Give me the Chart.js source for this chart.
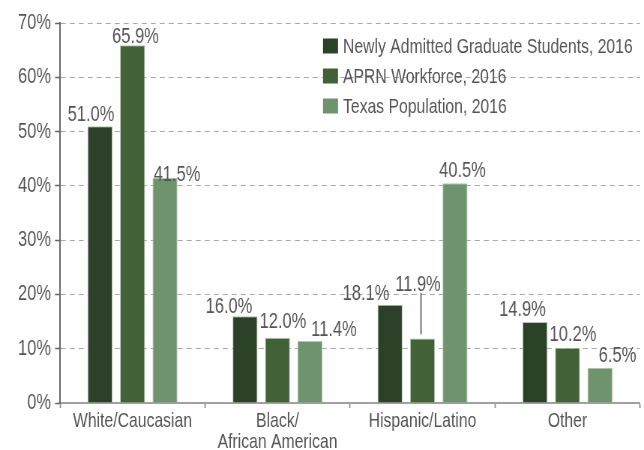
<!DOCTYPE html>
<html>
<head>
<meta charset="utf-8">
<script src="https://cdn.jsdelivr.net/npm/chart.js@4"></script>
<style>
  html, body { margin: 0; padding: 0; background: #fff; overflow: hidden; }
  #wrap { width: 644px; height: 450px; overflow: hidden; }
  /* the chart is drawn wider and squeezed so the sans text looks condensed */
  #myChart { transform: scaleX(0.7497); transform-origin: 0 0; }
</style>
</head>
<body>
<div id="wrap"><canvas id="myChart" width="859" height="450"></canvas></div>
<script>
const categories = ["White/Caucasian", ["Black/", "African American"], "Hispanic/Latino", "Other"];
const seriesNames = ["Newly Admitted Graduate Students, 2016", "APRN Workforce, 2016", "Texas Population, 2016"];
const newlyAdmitted = [51.0, 16.0, 18.1, 14.9];
const aprnWorkforce = [65.9, 12.0, 11.9, 10.2];
const texasPopulation = [41.5, 11.4, 40.5, 6.5];
const yTicks = [0, 10, 20, 30, 40, 50, 60, 70];

const S = 0.7497; // horizontal squeeze
const colors = ["#2b4229", "#416137", "#6f936c"];
const textColor = "#555555";
const fontFamily = "'Liberation Sans', Arial, sans-serif";

// label nudges [dx, rise above bar top] per series / category, in page pixels
const labelNudge = [
    [[-9, 5], [-16, 3.5], [-24, 5], [-12.5, 6]],
    [[3, 2.5], [5.5, 10], [-4.5, 47.5], [5.5, 6.5]],
    [[12, -3], [24, 5.5], [7.5, 6], [17.5, 5.5]]
];

const valueLabels = {
    id: "valueLabels",
    afterDatasetsDraw(chart) {
        const ctx = chart.ctx;
        ctx.save();
        ctx.font = "22px " + fontFamily;
        ctx.fillStyle = textColor;
        ctx.textAlign = "center";
        ctx.textBaseline = "alphabetic";
        chart.data.datasets.forEach((ds, i) => {
            const meta = chart.getDatasetMeta(i);
            meta.data.forEach((bar, j) => {
                const n = labelNudge[i][j];
                ctx.fillText(ds.data[j].toFixed(1) + "%", bar.x + n[0] / S, bar.y - n[1]);
                if (n[1] > 20) {
                    // leader line
                    ctx.strokeStyle = "#777";
                    ctx.lineWidth = 2;
                    ctx.beginPath();
                    ctx.moveTo(bar.x - 1.5 / S, bar.y - n[1] + 2);
                    ctx.lineTo(bar.x - 1.5 / S, bar.y - 4);
                    ctx.stroke();
                }
            });
        });
        ctx.restore();
    }
};

const boxLegend = {
    id: "boxLegend",
    afterDraw(chart) {
        const ctx = chart.ctx;
        ctx.save();
        ctx.font = "21px " + fontFamily;
        ctx.textBaseline = "middle";
        ctx.textAlign = "left";
        chart.data.datasets.forEach((ds, i) => {
            const y = 46 + i * 30;
            ctx.fillStyle = ds.backgroundColor;
            ctx.fillRect(323 / S, y - 7.5, 15 / S, 15);
            ctx.fillStyle = textColor;
            ctx.fillText(ds.label, 343 / S, y + 1);
        });
        ctx.restore();
    }
};

const ctx = document.getElementById("myChart").getContext("2d");
const myChart = new Chart(ctx, {
    type: "bar",
    data: {
        labels: categories,
        datasets: [
            { label: seriesNames[0], data: newlyAdmitted, backgroundColor: colors[0] },
            { label: seriesNames[1], data: aprnWorkforce, backgroundColor: colors[1] },
            { label: seriesNames[2], data: texasPopulation, backgroundColor: colors[2] }
        ].map(d => Object.assign(d, {
            borderColor: "#b9c2b6",
            borderWidth: 1,
            categoryPercentage: 0.672,
            barPercentage: 0.77
        }))
    },
    options: {
        responsive: false,
        animation: false,
        layout: { padding: { top: 23, right: 4 / S, left: 0, bottom: 0 } },
        plugins: {
            legend: { display: false },
            tooltip: { enabled: false }
        },
        scales: {
            x: {
                afterFit(scale) { scale.height = 47; },
                grid: {
                    offset: true,
                    drawOnChartArea: false,
                    drawTicks: true,
                    tickLength: 5,
                    tickColor: "#999",
                    tickWidth: 1.5 / S
                },
                border: { color: "#a0a0a0", width: 2 },
                ticks: {
                    color: textColor,
                    font: { family: fontFamily, size: 21, lineHeight: 1.0 },
                    padding: 3,
                    maxRotation: 0,
                    autoSkip: false
                }
            },
            y: {
                min: 0,
                max: 70,
                afterFit(scale) { scale.width = 60 / S; },
                afterBuildTicks(scale) { scale.ticks = yTicks.map(v => ({ value: v })); },
                grid: {
                    color: "#a8a8a8",
                    lineWidth: 1,
                    tickLength: 5 / S,
                    tickColor: "#666",
                    tickWidth: 1.5
                },
                border: { color: "#666", width: 1.5 / S, dash: [5 / S, 4 / S] },
                ticks: {
                    color: textColor,
                    font: { family: fontFamily, size: 22 },
                    padding: 4 / S,
                    callback: v => v + "%"
                }
            }
        }
    },
    plugins: [valueLabels, boxLegend]
});
</script>
</body>
</html>
